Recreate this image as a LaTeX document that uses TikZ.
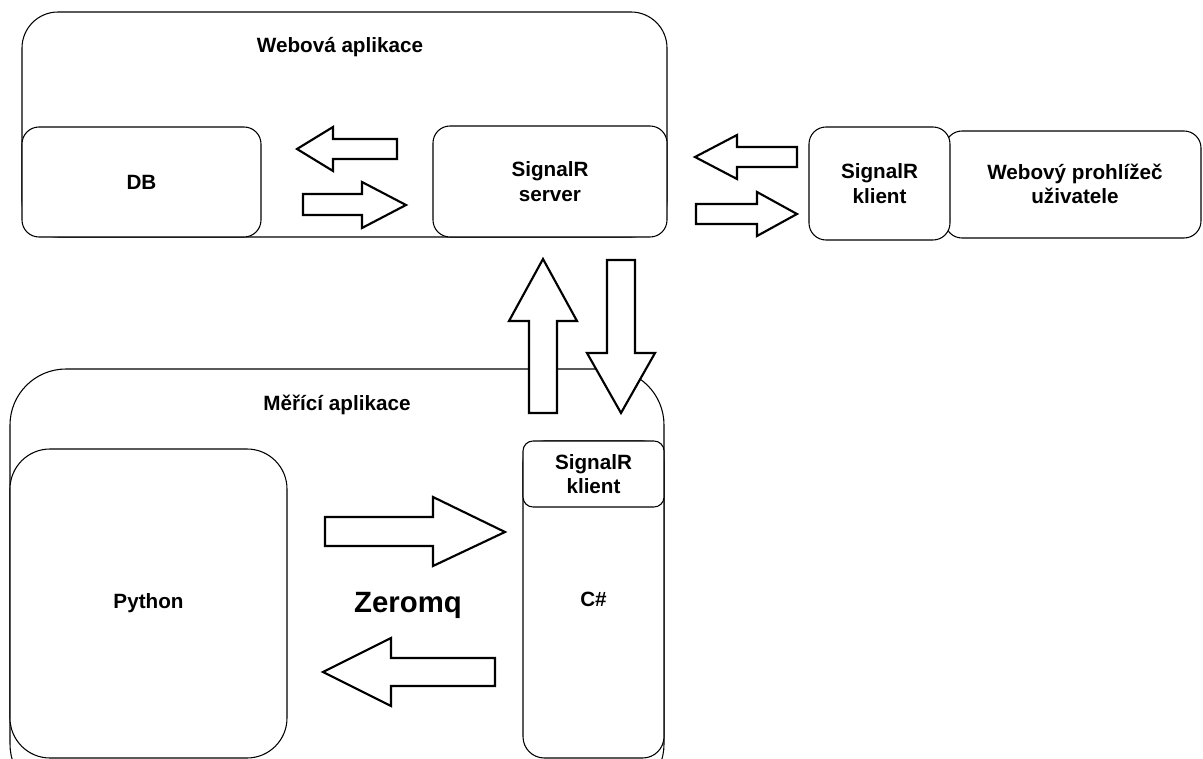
\documentclass[tikz,border=0pt]{standalone}
\usepackage{fontspec}
\setmainfont{Liberation Sans}
\newcommand\lblfont{\fontsize{15.5pt}{18.5pt}\bfseries\selectfont}
\newcommand\bigfont{\fontsize{22pt}{26pt}\bfseries\selectfont}
\tikzset{
  rbox/.style n args={5}{draw=black, line width=0.8pt, fill=white,
    rounded corners=#5, minimum width={(#3-#1)*0.75pt},
    minimum height={(#4-#2)*0.75pt}, inner sep=0pt,
    at={({(#1+#3)/2},{(#2+#4)/2})}, align=center, font=\lblfont},
  lbl/.style={font=\lblfont, align=center, inner sep=0pt},
  barrow/.style={draw=black, line width=1.6pt, fill=white, line join=miter},
}
\begin{document}
\begin{tikzpicture}[x=0.75pt, y=-0.75pt]
\useasboundingbox (0,0) rectangle (1203,759);
\clip (0,0) rectangle (1203,759);
\fill[white] (0,0) rectangle (1203,759);
% Webova aplikace
\node[rbox={22}{12}{667}{237}{27pt}] (web) {};
\node[lbl] (webtitle) at (340,47) {Webová aplikace};
\node[rbox={22}{127}{261}{237}{12.75pt}] (db) {DB};
\node[rbox={433}{126}{667}{237}{12.75pt}] (server) {SignalR\\server};
% browser
\node[rbox={945}{131}{1201}{238}{12.75pt}] (browser) {};
\node[lbl] (browsertext) at (1075,184) {Webový prohlížeč\\uživatele};
\node[rbox={809}{127}{950}{240}{12.75pt}] (wclient) {SignalR\\klient};
% Merici aplikace
\node[rbox={10}{369}{664}{800}{42pt}] (meas) {};
\node[lbl] (meastitle) at (337,405) {Měřící aplikace};
\node[rbox={10}{449}{287}{758}{30pt}] (python) {Python};
\node[rbox={523}{441}{664}{758}{16pt}] (csharp) {C\#};
\node[rbox={523}{441}{664}{507}{7.5pt}] (mclient) {SignalR\\klient};
\node[font=\bigfont, inner sep=0pt] (zmq) at (408,605) {Zeromq};
% block arrows, web app
\draw[barrow] (297,149) -- (333,127) -- (333,139) -- (397,139) -- (397,159) -- (333,159) -- (333,171) -- cycle;
\draw[barrow] (406,205) -- (362,182) -- (362,194) -- (303,194) -- (303,215) -- (362,215) -- (362,228) -- cycle;
% browser <-> server
\draw[barrow] (695,157) -- (737,135) -- (737,147) -- (797,147) -- (797,167) -- (737,167) -- (737,179) -- cycle;
\draw[barrow] (797,214) -- (757,192) -- (757,204) -- (696,204) -- (696,224) -- (757,224) -- (757,236) -- cycle;
% vertical
\draw[barrow] (543,259) -- (577,321) -- (557,321) -- (557,413) -- (529,413) -- (529,321) -- (509,321) -- cycle;
\draw[barrow] (621,413) -- (655,353) -- (635,353) -- (635,260) -- (607,260) -- (607,353) -- (587,353) -- cycle;
% zeromq arrows
\draw[barrow] (505,532) -- (433,497) -- (433,517) -- (325,517) -- (325,546) -- (433,546) -- (433,566) -- cycle;
\draw[barrow] (323,672) -- (391,638) -- (391,658) -- (495,658) -- (495,686) -- (391,686) -- (391,706) -- cycle;
\end{tikzpicture}
\end{document}
